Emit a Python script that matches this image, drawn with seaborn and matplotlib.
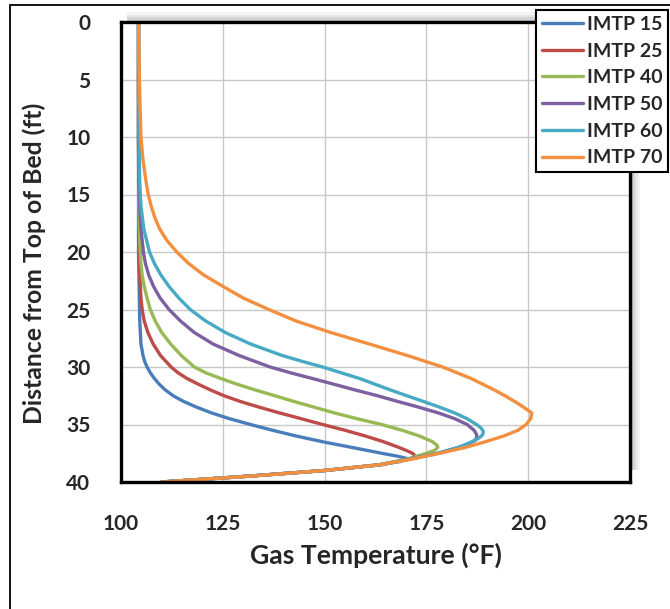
import matplotlib
matplotlib.use("Agg")
import matplotlib.pyplot as plt
from matplotlib.patches import Rectangle
import seaborn as sns
import pandas as pd

series_names = ["IMTP 15", "IMTP 25", "IMTP 40", "IMTP 50", "IMTP 60", "IMTP 70"]

depth_15 = [0, 10, 20, 24, 26, 28, 29, 29.5, 30, 30.5, 31, 31.5, 32, 32.5, 33, 33.5, 34, 34.5, 35, 35.5, 36, 36.5, 37, 37.5, 37.75, 37.95, 38.2, 38.5, 39, 39.5, 40]
temp_15 = [104.3, 104.3, 104.3, 104.5, 104.6, 104.9, 105.4, 105.8, 106.4, 107.2, 108.2, 109.4, 110.9, 112.8, 115.4, 118.6, 122.3, 126.7, 131.8, 137.2, 143.0, 149.5, 156.8, 164.0, 167.8, 170.2, 168.8, 163.5, 150.0, 131.0, 110.0]

depth_25 = [0, 10, 18, 22, 24, 25, 26, 27, 28, 29, 30, 30.5, 31, 31.5, 32, 32.5, 33, 33.5, 34, 34.5, 35, 35.5, 36, 36.5, 37, 37.3, 37.55, 37.75, 38.0, 38.5, 39, 39.5, 40]
temp_25 = [104.3, 104.3, 104.4, 104.6, 104.9, 105.2, 105.7, 106.6, 107.9, 109.7, 112.3, 114.0, 116.2, 119.0, 122.0, 125.3, 129.3, 134.0, 139.0, 144.3, 149.5, 155.0, 160.0, 164.5, 168.3, 170.4, 171.8, 172.2, 171.0, 164.0, 150.0, 131.0, 110.0]

depth_40 = [0, 10, 16, 19, 21, 22, 23, 24, 25, 26, 27, 28, 29, 30, 30.5, 31, 31.5, 32, 32.5, 33, 33.5, 34, 34.5, 35, 35.5, 36, 36.5, 36.8, 37.0, 37.25, 37.5, 38, 38.5, 39, 39.5, 40]
temp_40 = [104.3, 104.3, 104.4, 104.6, 104.9, 105.2, 105.7, 106.4, 107.2, 108.4, 110.0, 112.2, 114.8, 118.0, 120.8, 124.5, 128.5, 133.0, 137.8, 142.5, 147.5, 152.5, 158.0, 164.0, 169.0, 173.3, 176.5, 177.6, 177.8, 177.0, 175.0, 170.5, 163.5, 150.0, 131.0, 110.0]

depth_50 = [0, 10, 14, 16, 18, 20, 21, 22, 23, 24, 25, 26, 27, 28, 29, 30, 30.5, 31, 31.5, 32, 32.5, 33, 33.5, 34, 34.5, 35, 35.5, 35.85, 36.1, 36.4, 36.7, 37, 37.5, 38, 38.5, 39, 39.5, 40]
temp_50 = [104.3, 104.3, 104.4, 104.6, 104.9, 105.5, 106.0, 106.8, 108.0, 109.6, 111.8, 114.6, 118.0, 122.6, 129.0, 136.6, 141.6, 147.0, 152.3, 157.5, 163.0, 168.0, 173.2, 178.0, 182.0, 185.0, 186.7, 187.3, 187.4, 186.9, 185.3, 182.8, 177.8, 171.0, 163.5, 150.0, 131.0, 110.0]

depth_60 = [0, 5, 10, 14, 16, 18, 20, 21, 22, 23, 24, 25, 26, 27, 28, 29, 29.5, 30, 31, 31.5, 32, 32.5, 33, 33.5, 34, 34.5, 35, 35.3, 35.6, 35.9, 36.2, 36.5, 37, 37.5, 38, 38.5, 39, 39.5, 40]
temp_60 = [104.3, 104.3, 104.4, 104.6, 104.9, 105.6, 107.0, 108.2, 109.8, 111.8, 114.2, 117.0, 120.8, 125.6, 131.8, 139.6, 144.4, 149.5, 158.6, 162.4, 166.2, 170.2, 174.3, 178.3, 182.0, 185.0, 187.3, 188.4, 189.0, 188.8, 187.8, 186.2, 182.8, 178.0, 171.0, 163.5, 150.0, 131.2, 110.0]

depth_70 = [0, 5, 10, 12, 14, 15, 16, 17, 18, 19, 20, 21, 22, 23, 24, 25, 26, 27, 28, 29, 30, 31, 32, 32.5, 33, 33.5, 34, 34.5, 35, 35.5, 36, 36.5, 37, 37.5, 38, 38.5, 39, 39.5, 40]
temp_70 = [104.3, 104.5, 104.9, 105.4, 106.2, 106.7, 107.4, 108.3, 109.5, 111.3, 113.7, 116.6, 120.3, 125.1, 130.0, 136.3, 143.0, 151.5, 161.0, 170.3, 179.0, 186.0, 191.7, 194.3, 196.7, 198.9, 200.9, 200.6, 199.5, 197.5, 194.0, 189.5, 184.5, 178.3, 171.5, 163.5, 150.0, 131.5, 110.0]

x_ticks = [100, 125, 150, 175, 200, 225]
y_ticks = [0, 5, 10, 15, 20, 25, 30, 35, 40]

colors = ["#4A7EBB", "#BE4B48", "#98B954", "#7D60A0", "#46AAC5", "#F39040"]

depths = [depth_15, depth_25, depth_40, depth_50, depth_60, depth_70]
temps = [temp_15, temp_25, temp_40, temp_50, temp_60, temp_70]
frames = []
for name, d, t in zip(series_names, depths, temps):
    frames.append(pd.DataFrame({"depth": d, "temp": t, "series": name}))
df = pd.concat(frames, ignore_index=True)

sns.set_style("white")
plt.rcParams["font.family"] = ["Lato", "DejaVu Sans"]
plt.rcParams["font.weight"] = "bold"

W, H = 670, 609
AX_L, AX_R, AX_T, AX_B = 121, 630, 22, 482
fig = plt.figure(figsize=(W / 100, H / 100), dpi=100)
ax = fig.add_axes([AX_L / W, 1 - AX_B / H, (AX_R - AX_L) / W, (AX_B - AX_T) / H])
ax.set_zorder(2)

# subtle plot-area shadow (behind the axes)
for i, a in enumerate([0.04, 0.06, 0.08, 0.10]):
    off = (4 - i) * 2.5
    fig.patches.append(Rectangle(((AX_L + 6) / W, (1 - 470 / H)), (AX_R - AX_L + off - 6) / W, (470 - AX_T + off) / H,
                                 transform=fig.transFigure, facecolor="black", alpha=a, edgecolor="none", zorder=1))

sns.lineplot(data=df, x="temp", y="depth", hue="series", palette=dict(zip(series_names, colors)),
             sort=False, estimator=None, linewidth=2.4, ax=ax, zorder=3)

ax.set_xlim(100, 225)
ax.set_ylim(40, 0)
ax.set_xticks(x_ticks)
ax.set_yticks(y_ticks)
ax.set_xticklabels([str(v) for v in x_ticks], fontsize=15, fontweight="bold")
ax.set_yticklabels([str(v) for v in y_ticks], fontsize=15, fontweight="bold")
ax.grid(True, color="#C8C8C8", linewidth=1.0)
ax.set_axisbelow(True)
ax.tick_params(axis="both", direction="in", length=6, width=2.2, color="black")
ax.tick_params(axis="x", pad=23)
ax.tick_params(axis="y", pad=22)
for s in ax.spines.values():
    s.set_color("black")
    s.set_linewidth(2.4)
    s.set_zorder(5)
ax.set_facecolor("white")

xl = ax.set_xlabel("Gas Temperature (\u00b0F)", fontsize=16, fontweight="bold")
yl = ax.set_ylabel("Distance from Top of Bed (ft)", fontsize=16, fontweight="bold")

# fit axis-title sizes and positions to the reference layout (pixel targets)
fig.canvas.draw()
r = fig.canvas.get_renderer()
bx = xl.get_window_extent(r)
xl.set_fontsize(16 * 252 / bx.width)
by = yl.get_window_extent(r)
yl.set_fontsize(16 * 322 / by.height)
fig.canvas.draw()
bx = xl.get_window_extent(r)
x_center_from_top = 555
top_disp = H - (x_center_from_top - bx.height / 2)
ax.xaxis.set_label_coords(0.5, (top_disp - (H - AX_B)) / (AX_B - AX_T))
y_right_px = 46
y_center_from_top = 263
ax.yaxis.set_label_coords((y_right_px - AX_L) / (AX_R - AX_L), (AX_B - y_center_from_top) / (AX_B - AX_T))

handles, labels = ax.get_legend_handles_labels()
leg = ax.legend(handles, labels, loc="upper right", bbox_to_anchor=(668 / W, 1 - 10 / H),
                bbox_transform=fig.transFigure, borderaxespad=0, fancybox=False, framealpha=1,
                edgecolor="black", prop={"size": 14, "weight": "bold"}, handlelength=2.1,
                handletextpad=0.2, labelspacing=0.5, borderpad=0.3, title=None)
leg.get_frame().set_linewidth(1.5)
for ln in leg.get_lines():
    ln.set_linewidth(2.4)

# outer figure border (left and top visible)
fig.patches.append(Rectangle((10 / W, -0.1), 2.0, 1 - 5 / H + 0.1, transform=fig.transFigure,
                             facecolor="none", edgecolor="black", linewidth=1.3, clip_on=False, zorder=0))

fig.savefig("out.png", dpi=100)
